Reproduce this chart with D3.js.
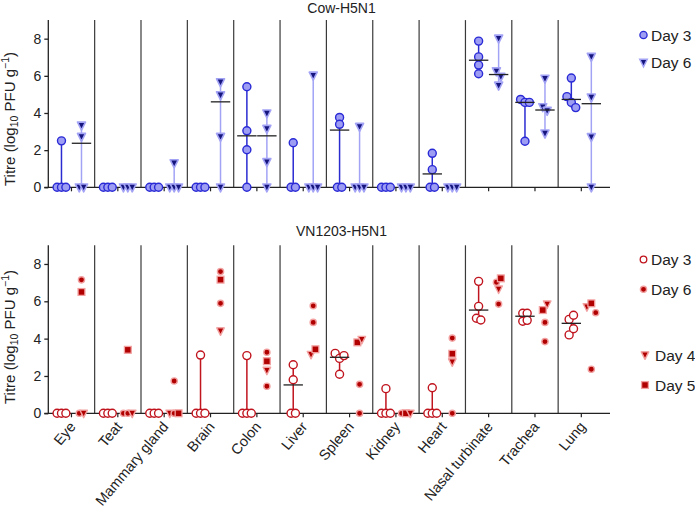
<!DOCTYPE html>
<html><head><meta charset="utf-8">
<script src="https://cdn.jsdelivr.net/npm/d3@7"></script>
<style>
body{margin:0;background:#fff;}
svg{display:block;font-family:"Liberation Sans",Arial,Helvetica,sans-serif;}
</style></head>
<body><svg id="c" width="695" height="513"></svg>
<script>
const organs = ["Eye","Teat","Mammary gland","Brain","Colon","Liver","Spleen","Kidney","Heart","Nasal turbinate","Trachea","Lung"];
const yTicks = [0,2,4,6,8];

// Cow-H5N1
const cowDay3 = [[2.5,0,0,0],[0,0,0],[0,0,0],[0,0,0],[5.41,3.04,2.02,0],[2.4,0,0],[3.76,3.39,0,0],[0,0,0],[1.83,0.95,0,0],[7.87,7.02,6.58,6.11],[4.73,4.57,4.57,2.48],[5.88,4.88,4.57,4.29]];
const cowDay6 = [[3.33,2.72,0,0],[0,0,0],[1.3,0,0,0],[5.66,4.96,2.72,0],[3.98,3.15,1.36,0],[6.02,0,0,0],[3.26,0,0,0],[0,0,0],[0,0,0],[8.01,6.25,5.95,5.48],[5.85,4.32,4.12,2.9],[7.03,4.84,2.71,0]];
const cowDay3Median = [0,0,0,0,2.77,0,3.08,0,0.72,6.84,4.57,4.73];
const cowDay6Median = [2.37,0,0,4.6,2.77,0,0,0,0,6.07,4.16,4.5];

// VN1203-H5N1
const vnDay3 = [[0,0,0],[0,0,0],[0,0,0],[3.12,0,0,0],[3.09,0,0,0],[2.6,1.8,0,0],[3.21,2.94,3.09,2.09],[1.32,0,0,0],[1.37,0,0,0],[7.07,5.73,5.09,5.0],[5.36,5.36,4.93,4.98],[5.03,5.25,4.2,4.53]];
const vnDay3Median = [0,0,0,0,0,1.52,3.0,0,0,5.53,5.2,4.82];
// later time points: [day, titre]
const vnLate = [
  [[6,7.15],[5,6.5],[6,0],[4,0]],
  [[5,3.4],[6,0],[6,0],[4,0]],
  [[6,1.73],[4,0],[6,0],[5,0]],
  [[6,7.59],[5,7.16],[6,5.89],[4,4.41]],
  [[6,3.27],[5,2.79],[4,2.3],[6,1.45]],
  [[6,5.76],[6,4.87],[4,3.15],[5,3.43]],
  [[5,3.8],[4,3.95],[6,1.55],[6,0]],
  [[6,0],[5,0],[4,0]],
  [[6,4.03],[5,3.19],[4,2.75],[6,0]],
  [[6,7.02],[5,7.23],[4,6.65],[6,5.85]],
  [[5,5.53],[4,5.85],[6,4.87],[6,3.84]],
  [[4,5.7],[5,5.89],[6,5.39],[6,2.36]]
];

const svg = d3.select("#c");
const font = '"Liberation Sans",Arial,Helvetica,sans-serif';
const x = d3.scaleBand().domain(organs).range([48.3, 604.5]).padding(0);
const axisEnd = 610;
const groupOff = 10, medHalf = 9.7, spread = 4.4, clusterPx = 6.5;

const blue = {d3Fill:"#9d9df3", d3Stroke:"#2a2ad6", d3Line:"#2b2bd2", d6Fill:"#16167e", d6Stroke:"#a3a3f6", d6Line:"#a3a3f6"};
const red = {stroke:"#c0141e", fill:"#b00000", halo:"#f2a0a0"};

function offsets(vals, y){
  const order = vals.map((v,i)=>i).sort((a,b)=>vals[b]-vals[a]);
  const res = new Array(vals.length).fill(0);
  let cl = [];
  const flush = ()=>{ const m = cl.slice().sort((a,b)=>a-b); m.forEach((ix,k)=>res[ix]=(k-(m.length-1)/2)*spread); cl=[]; };
  order.forEach((ix)=>{
    if(cl.length && Math.abs(y(vals[cl[cl.length-1]])-y(vals[ix]))>=clusterPx) flush();
    cl.push(ix);
  });
  if(cl.length) flush();
  return res;
}
const triPath = (w,h)=>`M${-w/2},${-h*0.42}L${w/2},${-h*0.42}L0,${h*0.58}Z`;

function frame(g, y, title, titleY, labelY){
  organs.slice(1).forEach(o=>{
    g.append("line").attr("x1",x(o)).attr("x2",x(o)).attr("y1",y(9)).attr("y2",y(0))
      .attr("stroke","#3a3a3a").attr("stroke-width",1.2);
  });
  const ya = d3.axisLeft(y).tickValues(yTicks).tickSize(4).tickPadding(3);
  const yg = g.append("g").attr("transform",`translate(${x.range()[0]},0)`).call(ya);
  yg.select(".domain").attr("d",`M0,${y(9)}V${y(0)}`).attr("stroke","#222").attr("stroke-width",1.3);
  yg.selectAll(".tick line").attr("stroke","#222").attr("stroke-width",1.3);
  yg.selectAll("text").attr("font-size",14).attr("font-family",font).attr("fill","#222");
  const xa = d3.axisBottom(x).tickSize(4).tickFormat("");
  const xg = g.append("g").attr("transform",`translate(0,${y(0)})`).call(xa);
  xg.select(".domain").attr("d",`M${x.range()[0]-4},0H${axisEnd}`).attr("stroke","#222").attr("stroke-width",1.3);
  xg.selectAll(".tick line").attr("stroke","#222").attr("stroke-width",1.2);
  g.append("text").attr("x",341.5).attr("y",titleY).attr("text-anchor","middle").attr("font-size",14).attr("fill","#222").text(title);
  const t = g.append("text").attr("transform",`translate(14.5,${labelY}) rotate(-90)`).attr("text-anchor","middle").attr("font-size",15).attr("fill","#222");
  t.append("tspan").text("Titre (log");
  t.append("tspan").attr("font-size",10.5).attr("dy",3.5).text("10");
  t.append("tspan").attr("dy",-3.5).text(" PFU g");
  t.append("tspan").attr("font-size",10.5).attr("dy",-6).text("\u22121");
  t.append("tspan").attr("dy",6).text(")");
}

function median(g, cx, v, y){
  g.append("line").attr("x1",cx-medHalf).attr("x2",cx+medHalf).attr("y1",y(v)).attr("y2",y(v))
    .attr("stroke","#222").attr("stroke-width",1.3);
}
function range(g, cx, vals, y, col){
  g.append("line").attr("x1",cx).attr("x2",cx).attr("y1",y(d3.min(vals))).attr("y2",y(d3.max(vals)))
    .attr("stroke",col).attr("stroke-width",1.5);
}

// ---------- top panel ----------
const yT = d3.scaleLinear().domain([0,9]).range([187.3, 20.1]);
const gT = svg.append("g");
frame(gT, yT, "Cow-H5N1", 13, 119);
organs.forEach((o,i)=>{
  const c = x(o)+x.bandwidth()/2;
  const c3 = c-groupOff, c6 = c+groupOff;
  range(gT, c3, cowDay3[i], yT, blue.d3Line);
  range(gT, c6, cowDay6[i], yT, blue.d6Line);
  const o3 = offsets(cowDay3[i], yT);
  cowDay3[i].forEach((v,k)=>{
    gT.append("circle").attr("cx",c3+o3[k]).attr("cy",yT(v)).attr("r",4)
      .attr("fill",blue.d3Fill).attr("stroke",blue.d3Stroke).attr("stroke-width",1.4);
  });
  const o6 = offsets(cowDay6[i], yT);
  cowDay6[i].forEach((v,k)=>{
    gT.append("path").attr("d",triPath(8,8)).attr("transform",`translate(${c6+o6[k]},${yT(v)})`)
      .attr("fill",blue.d6Fill).attr("stroke",blue.d6Stroke).attr("stroke-width",1.6).attr("stroke-linejoin","round");
  });
  if(cowDay3Median[i]>0) median(gT, c3, cowDay3Median[i], yT);
  if(cowDay6Median[i]>0) median(gT, c6, cowDay6Median[i], yT);
});
// top legend
const lgT = svg.append("g").attr("font-size",15.5).attr("fill","#222");
lgT.append("circle").attr("cx",643.5).attr("cy",35).attr("r",3.6).attr("fill",blue.d3Fill).attr("stroke",blue.d3Stroke).attr("stroke-width",1.3);
lgT.append("text").attr("x",651).attr("y",40.5).text("Day 3");
lgT.append("path").attr("d",triPath(7.5,7.5)).attr("transform","translate(643.5,62.5)").attr("fill",blue.d6Fill).attr("stroke",blue.d6Stroke).attr("stroke-width",1.5);
lgT.append("text").attr("x",651).attr("y",68).text("Day 6");

// ---------- bottom panel ----------
const yB = d3.scaleLinear().domain([0,9]).range([413.3, 245.3]);
const gB = svg.append("g");
frame(gB, yB, "VN1203-H5N1", 235.5, 337);
function lateMark(g, day, cx, cy){
  if(day===6){
    g.append("circle").attr("cx",cx).attr("cy",cy).attr("r",3.1).attr("fill",red.fill).attr("stroke",red.halo).attr("stroke-width",1.4);
  } else if(day===5){
    g.append("rect").attr("x",cx-3.4).attr("y",cy-3.4).attr("width",6.8).attr("height",6.8).attr("fill",red.fill).attr("stroke",red.halo).attr("stroke-width",1.3);
  } else {
    g.append("path").attr("d",triPath(7.5,7.5)).attr("transform",`translate(${cx},${cy})`).attr("fill",red.fill).attr("stroke",red.halo).attr("stroke-width",1.4).attr("stroke-linejoin","round");
  }
}
organs.forEach((o,i)=>{
  const c = x(o)+x.bandwidth()/2;
  const c3 = c-groupOff, c6 = c+groupOff;
  range(gB, c3, vnDay3[i], yB, red.stroke);
  const o3 = offsets(vnDay3[i], yB);
  vnDay3[i].forEach((v,k)=>{
    gB.append("circle").attr("cx",c3+o3[k]).attr("cy",yB(v)).attr("r",4)
      .attr("fill","#fff").attr("stroke",red.stroke).attr("stroke-width",1.4);
  });
  const lv = vnLate[i].map(d=>d[1]);
  const o6 = offsets(lv, yB);
  vnLate[i].forEach((d,k)=> lateMark(gB, d[0], c6+o6[k], yB(d[1])));
  if(vnDay3Median[i]>0) median(gB, c3, vnDay3Median[i], yB);
  gB.append("text").attr("transform",`translate(${c+5},${427}) rotate(-50)`).attr("text-anchor","end")
    .attr("font-size",14.5).attr("fill","#222").text(o);
});
// bottom legend
const lgB = svg.append("g").attr("font-size",15.5).attr("fill","#222");
lgB.append("circle").attr("cx",643.5).attr("cy",259.5).attr("r",3.3).attr("fill","#fff").attr("stroke",red.stroke).attr("stroke-width",1.3);
lgB.append("text").attr("x",651).attr("y",265).text("Day 3");
lateMark(lgB, 6, 643.5, 289.3);
lgB.append("text").attr("x",651).attr("y",295).text("Day 6");
lateMark(lgB, 4, 645, 355);
lgB.append("text").attr("x",655).attr("y",360.5).text("Day 4");
lateMark(lgB, 5, 645, 385);
lgB.append("text").attr("x",655).attr("y",390.5).text("Day 5");
</script></body></html>
